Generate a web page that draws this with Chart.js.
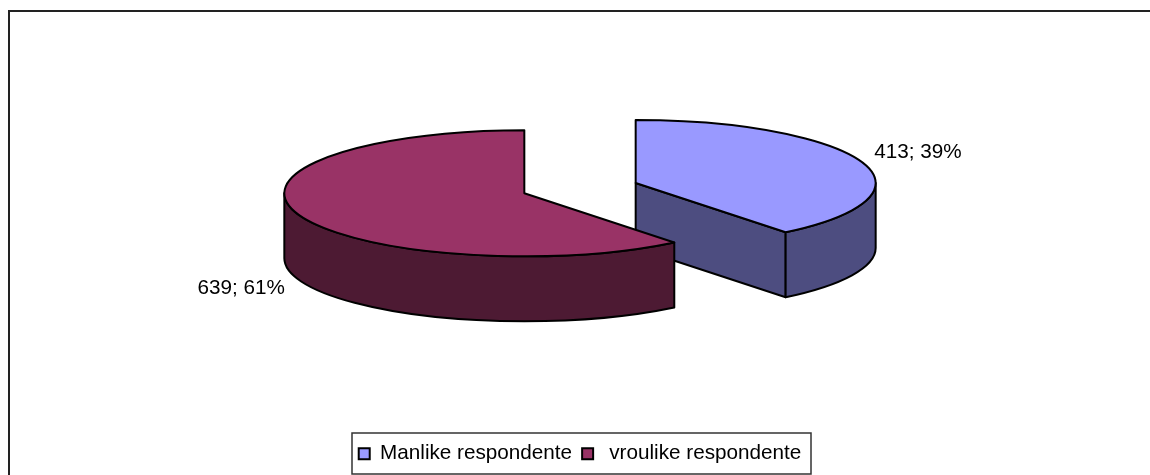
<!DOCTYPE html>
<html>
<head>
<meta charset="utf-8">
<style>html,body{margin:0;padding:0;background:#fff}canvas{display:block}</style>
<script src="https://cdn.jsdelivr.net/npm/chart.js@4"></script>
</head>
<body>
<canvas id="c" width="1150" height="475"></canvas>
<script>
const categories = ['Manlike respondente', ' vroulike respondente'];
const respondents = [413, 639];
const topColours = ['#9999FF', '#993366'];
const wallColours = ['#4D4D80', '#4D1A33'];

const FONT = '"Liberation Sans", Arial, sans-serif';
const FONT_SIZE = 20.7;
const RADIUS = 240;
const TILT = 0.2625;     // vertical squash of the pie's circle
const DEPTH = 65;        // height of the extruded wall
const EXPLODE = 59;      // radial slice separation (circle space)
const LIFT = -28.5;      // vertical placement of the 3D pie relative to the chart area

const pie3d = {
  id: 'pie3d',
  beforeDraw(chart) {
    const ctx = chart.ctx;
    ctx.save();
    ctx.fillStyle = '#fff';
    ctx.fillRect(0, 0, chart.width, chart.height);
    ctx.strokeStyle = '#222';
    ctx.lineWidth = 2;
    ctx.beginPath();
    ctx.moveTo(9, chart.height);
    ctx.lineTo(9, 11);
    ctx.lineTo(chart.width, 11);
    ctx.stroke();
    ctx.restore();
  },
  beforeDatasetDraw(chart, args) {
    const ctx = chart.ctx;
    const meta = args.meta;
    const total = respondents.reduce((a, b) => a + b, 0);
    ctx.save();
    ctx.lineWidth = 2;
    ctx.lineJoin = 'round';
    ctx.strokeStyle = '#000';
    const labels = [];
    meta.data.forEach((arc, i) => {
      const s = arc.startAngle, e = arc.endAngle, mid = (s + e) / 2;
      const rx = arc.outerRadius, ry = arc.outerRadius * TILT;
      const cx = arc.x + Math.cos(mid) * EXPLODE;
      const cy = arc.y + LIFT + Math.sin(mid) * EXPLODE * TILT;
      const px = a => cx + rx * Math.cos(a);
      const py = a => cy + ry * Math.sin(a);

      ctx.fillStyle = wallColours[i];
      // cut face along the end edge, visible when it turns toward the viewer
      if (Math.sin(e) > 0 && Math.cos(e) > 0) {
        ctx.beginPath();
        ctx.moveTo(cx, cy);
        ctx.lineTo(px(e), py(e));
        ctx.lineTo(px(e), py(e) + DEPTH);
        ctx.lineTo(cx, cy + DEPTH);
        ctx.closePath();
        ctx.fill();
        ctx.stroke();
      }
      // curved outer wall: the part of the rim on the front half
      const a0 = Math.max(s, 0), a1 = Math.min(e, Math.PI);
      if (a1 > a0) {
        ctx.beginPath();
        ctx.ellipse(cx, cy, rx, ry, 0, a0, a1, false);
        ctx.lineTo(px(a1), py(a1) + DEPTH);
        ctx.ellipse(cx, cy + DEPTH, rx, ry, 0, a1, a0, true);
        ctx.closePath();
        ctx.fill();
        ctx.stroke();
      }
      // top face
      ctx.fillStyle = topColours[i];
      ctx.beginPath();
      ctx.moveTo(cx, cy);
      ctx.ellipse(cx, cy, rx, ry, 0, s, e, false);
      ctx.closePath();
      ctx.fill();
      ctx.stroke();

      // data label anchored to the rim at the slice's mid-angle
      const front = Math.sin(mid) > 0;
      const right = Math.cos(mid) > 0;
      const pct = Math.round(respondents[i] / total * 100);
      labels.push({
        text: respondents[i] + '; ' + pct + '%',
        x: px(mid) + (right ? 12 : -13),
        y: py(mid) + (front ? DEPTH + 9 : -10),
        align: right ? 'left' : 'right'
      });
    });
    ctx.fillStyle = '#000';
    ctx.font = FONT_SIZE + 'px ' + FONT;
    ctx.textBaseline = 'middle';
    labels.forEach(l => {
      ctx.textAlign = l.align;
      ctx.fillText(l.text, l.x, l.y);
    });
    ctx.restore();
    return false;
  },
  afterDraw(chart) {
    const legend = chart.legend;
    const boxes = legend.legendHitBoxes;
    const first = boxes[0], last = boxes[boxes.length - 1];
    const ctx = chart.ctx;
    ctx.save();
    ctx.strokeStyle = '#333';
    ctx.lineWidth = 1.5;
    const l = Math.round(first.left - 7), r = Math.round(last.left + last.width + 10);
    const t = Math.round(legend.top), b = Math.round(legend.top + legend.height);
    ctx.strokeRect(l, t, r - l, b - t);
    ctx.restore();
  }
};

new Chart(document.getElementById('c'), {
  type: 'pie',
  data: {
    labels: categories,
    datasets: [{
      data: respondents,
      backgroundColor: topColours,
      borderColor: '#000',
      borderWidth: 2
    }]
  },
  options: {
    responsive: false,
    animation: false,
    radius: RADIUS,
    layout: { padding: { left: 10, bottom: 1 } },
    plugins: {
      tooltip: { enabled: false },
      legend: {
        position: 'bottom',
        labels: {
          boxWidth: 11,
          boxHeight: 11,
          padding: 10,
          color: '#000',
          font: { family: FONT, size: FONT_SIZE }
        }
      }
    }
  },
  plugins: [pie3d]
});
</script>
</body>
</html>
